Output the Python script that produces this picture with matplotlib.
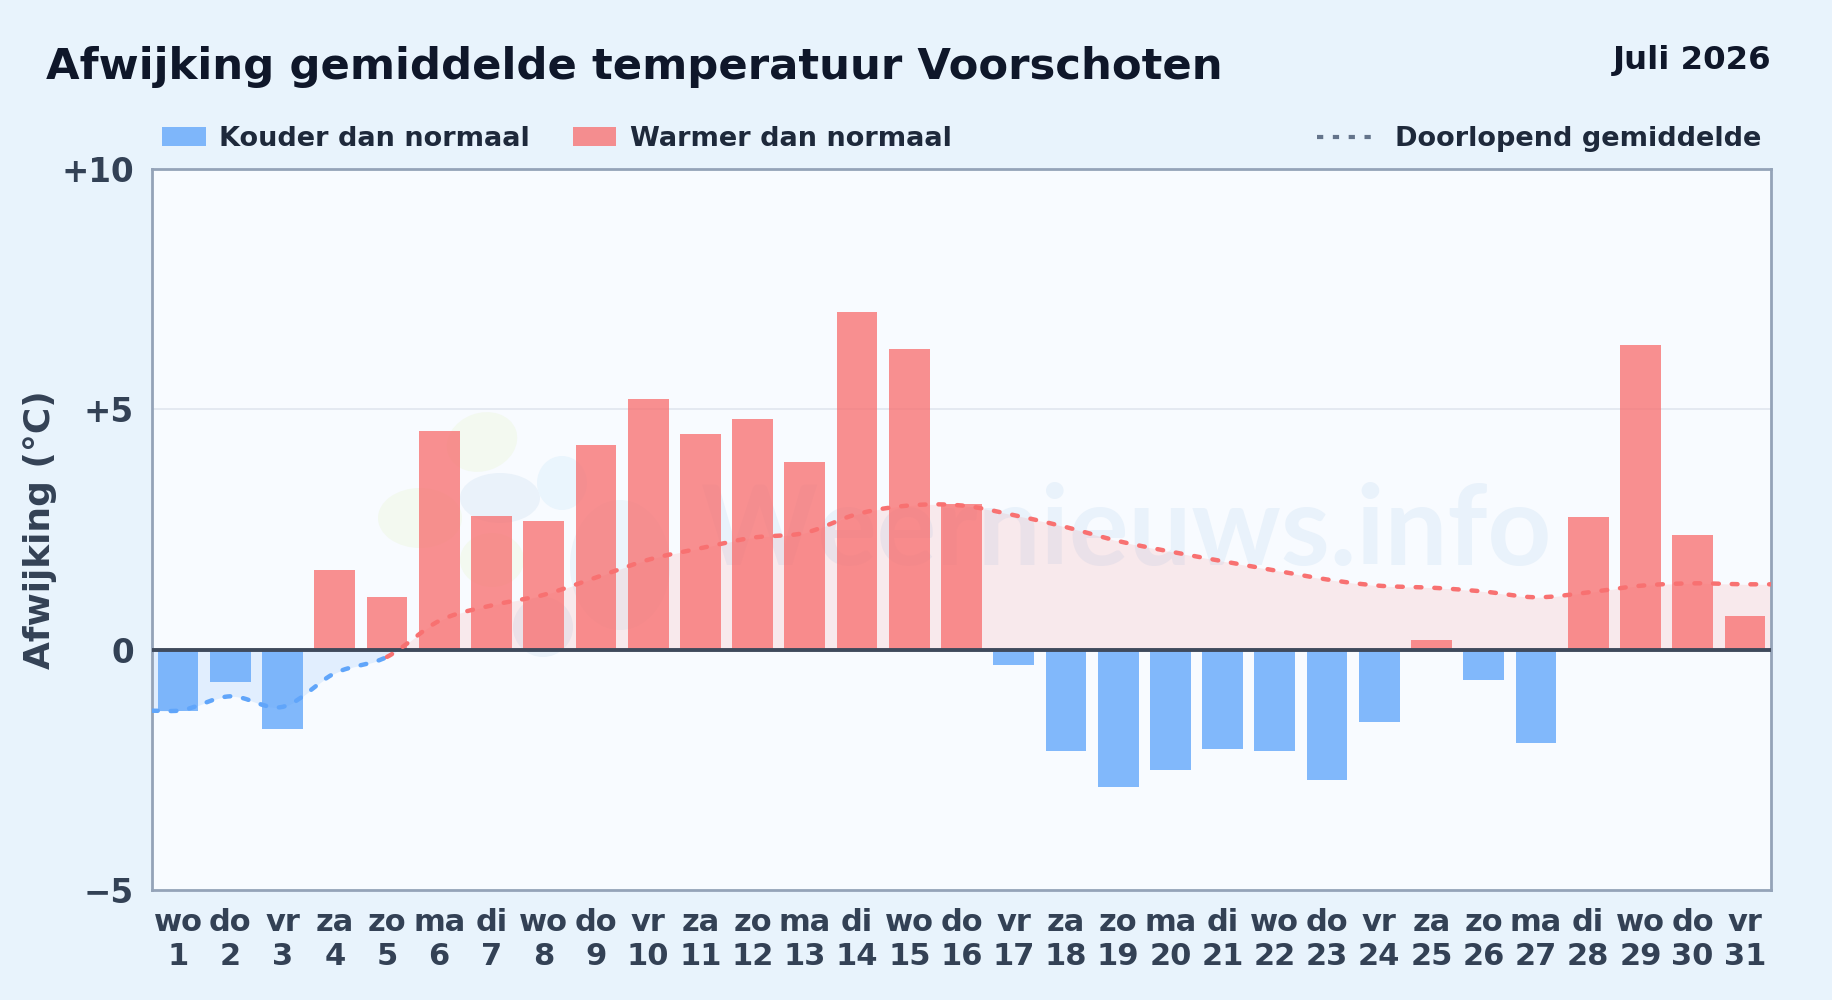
import numpy as np
import matplotlib
matplotlib.use("Agg")
import matplotlib.pyplot as plt
from matplotlib.patches import Ellipse, Rectangle
from matplotlib.lines import Line2D
from matplotlib.transforms import IdentityTransform

days = list(range(1, 32))
weekdays = ["wo", "do", "vr", "za", "zo", "ma", "di", "wo", "do", "vr", "za", "zo", "ma", "di", "wo", "do",
            "vr", "za", "zo", "ma", "di", "wo", "do", "vr", "za", "zo", "ma", "di", "wo", "do", "vr"]
afwijking = [-1.27, -0.68, -1.65, 1.66, 1.10, 4.55, 2.78, 2.68, 4.26, 5.21, 4.48, 4.80, 3.90, 7.03, 6.26, 3.04,
             -0.32, -2.11, -2.86, -2.50, -2.06, -2.11, -2.72, -1.50, 0.20, -0.63, -1.94, 2.76, 6.33, 2.38, 0.71]
gemiddelde = [-1.27, -0.97, -1.19, -0.49, -0.15, 0.60, 0.92, 1.14, 1.50, 1.87, 2.11, 2.33, 2.43, 2.82, 3.00, 3.00,
              2.80, 2.55, 2.26, 2.04, 1.84, 1.65, 1.46, 1.33, 1.29, 1.21, 1.09, 1.19, 1.33, 1.38, 1.36]
yticks = [-5, 0, 5, 10]
yticklabels = ["\u22125", "0", "+5", "+10"]

BLUE = "#60a5fa"
RED = "#f87171"
W, H = 1832, 1000


def fx(px):
    return px / W


def fy(py):
    return 1 - py / H


def smooth(x, y, n=20):
    # hermite curve through the daily values, only for drawing the line
    x = np.array([x[0] - 0.5] + list(x) + [x[-1] + 0.5], dtype=float)
    y = np.array([y[0]] + list(y) + [y[-1]], dtype=float)
    m = np.gradient(y, x)
    xs, ys = [], []
    for i in range(len(x) - 1):
        h = x[i + 1] - x[i]
        t = np.linspace(0, 1, n, endpoint=False)
        xs.append(x[i] + t * h)
        ys.append((2*t**3 - 3*t**2 + 1) * y[i] + (t**3 - 2*t**2 + t) * h * m[i]
                  + (-2*t**3 + 3*t**2) * y[i + 1] + (t**3 - t**2) * h * m[i + 1])
    return np.append(np.concatenate(xs), x[-1]), np.append(np.concatenate(ys), y[-1])


plt.rcParams["font.family"] = "DejaVu Sans"
fig = plt.figure(figsize=(W / 100, H / 100), dpi=100, facecolor="#e8f3fc")
ax = fig.add_axes([fx(152), fy(890), (1771 - 152) / W, (890 - 169) / H], facecolor="#f8fbff")

# watermark
blobs = [(482, 442, 72, 58, 20, "#f3f9f0"), (420, 518, 84, 60, 0, "#f3f9f0"), (492, 560, 64, 54, 0, "#f3f9f0"),
         (500, 498, 80, 50, 0, "#eaf2fa"), (562, 483, 50, 54, 0, "#eaf5fd"), (620, 565, 100, 130, 0, "#ecf4fb"),
         (543, 627, 60, 60, 0, "#eaf2fa")]
for cx, cy, bw, bh, ang, col in blobs:
    ax.add_patch(Ellipse((cx, H - cy), bw, bh, angle=ang, transform=IdentityTransform(), facecolor=col,
                         edgecolor="none", zorder=0.5, clip_on=False))
ax.text((1126 - 152) / (1771 - 152), (890 - 533) / (890 - 169), "Weernieuws.info", family="Lato", fontweight="bold",
        fontsize=80.3, color="#e9f2fb", ha="center", va="center", transform=ax.transAxes, zorder=0.6)

ax.axhline(5, color="#e2e8f0", lw=1.3, zorder=0.7)

xs, ys = smooth(days, gemiddelde)
ax.fill_between(xs, 0, ys, where=ys >= 0, color=RED, alpha=0.13, lw=0, interpolate=True, zorder=1)
ax.fill_between(xs, 0, ys, where=ys <= 0, color=BLUE, alpha=0.15, lw=0, interpolate=True, zorder=1)

cols = [RED if v > 0 else BLUE for v in afwijking]
ax.bar(days, afwijking, width=0.78, color=cols, alpha=0.78, lw=0, zorder=2)
ax.axhline(0, color="#3f4a5c", lw=2.8, zorder=3)

# colour changes on the last day before the mean turns positive
omslag = days[[i for i, v in enumerate(gemiddelde) if v > 0][0] - 1]
dots = (0, (1.3, 2.9))
ax.plot(np.where(xs <= omslag, xs, np.nan), ys, color=BLUE, lw=3.2, ls=dots, dash_capstyle="round", zorder=4)
ax.plot(np.where(xs >= omslag, xs, np.nan), ys, color=RED, lw=3.2, ls=dots, dash_capstyle="round", zorder=4)

ax.set_xlim(0.5, 31.5)
ax.set_ylim(-5, 10)
ax.set_xticks(days)
ax.set_xticklabels([f"{w}\n{d}" for w, d in zip(weekdays, days)], fontsize=22, fontweight="bold", color="#334155",
                   linespacing=1.22)
ax.set_yticks(yticks)
ax.set_yticklabels(yticklabels, fontsize=23.5, fontweight="bold", color="#334155")
ax.tick_params(axis="both", length=0)
ax.tick_params(axis="y", pad=13)
ax.tick_params(axis="x", pad=13)
for s in ax.spines.values():
    s.set_color("#94a3b8")
    s.set_linewidth(2)

fig.text(fx(40), fy(530), "Afwijking (°C)", rotation=90, fontsize=25.9, fontweight="bold", color="#334155",
         ha="center", va="center")
fig.text(fx(46), fy(67), "Afwijking gemiddelde temperatuur Voorschoten", fontsize=31.22, fontweight="bold",
         color="#0f172a", ha="left", va="center")
fig.text(fx(1771), fy(61), "Juli 2026", fontsize=23.3, fontweight="bold", color="#0f172a", ha="right", va="center")

# legend
fig.add_artist(Rectangle((fx(162), fy(146)), 44 / W, 19 / H, transform=fig.transFigure, facecolor=BLUE, alpha=0.78, lw=0))
fig.add_artist(Rectangle((fx(573), fy(146)), 43 / W, 19 / H, transform=fig.transFigure, facecolor=RED, alpha=0.78, lw=0))
fig.add_artist(Line2D([fx(1317), fx(1376)], [fy(137), fy(137)], transform=fig.transFigure, color="#64748b", lw=3,
                      ls=(0, (1.5, 2.3))))
fig.text(fx(219), fy(139), "Kouder dan normaal", fontsize=19.55, fontweight="bold", color="#1e293b", va="center")
fig.text(fx(630), fy(139), "Warmer dan normaal", fontsize=19.55, fontweight="bold", color="#1e293b", va="center")
fig.text(fx(1395), fy(139), "Doorlopend gemiddelde", fontsize=19.55, fontweight="bold", color="#1e293b", va="center")

fig.savefig("out.png", dpi=100, facecolor=fig.get_facecolor())
